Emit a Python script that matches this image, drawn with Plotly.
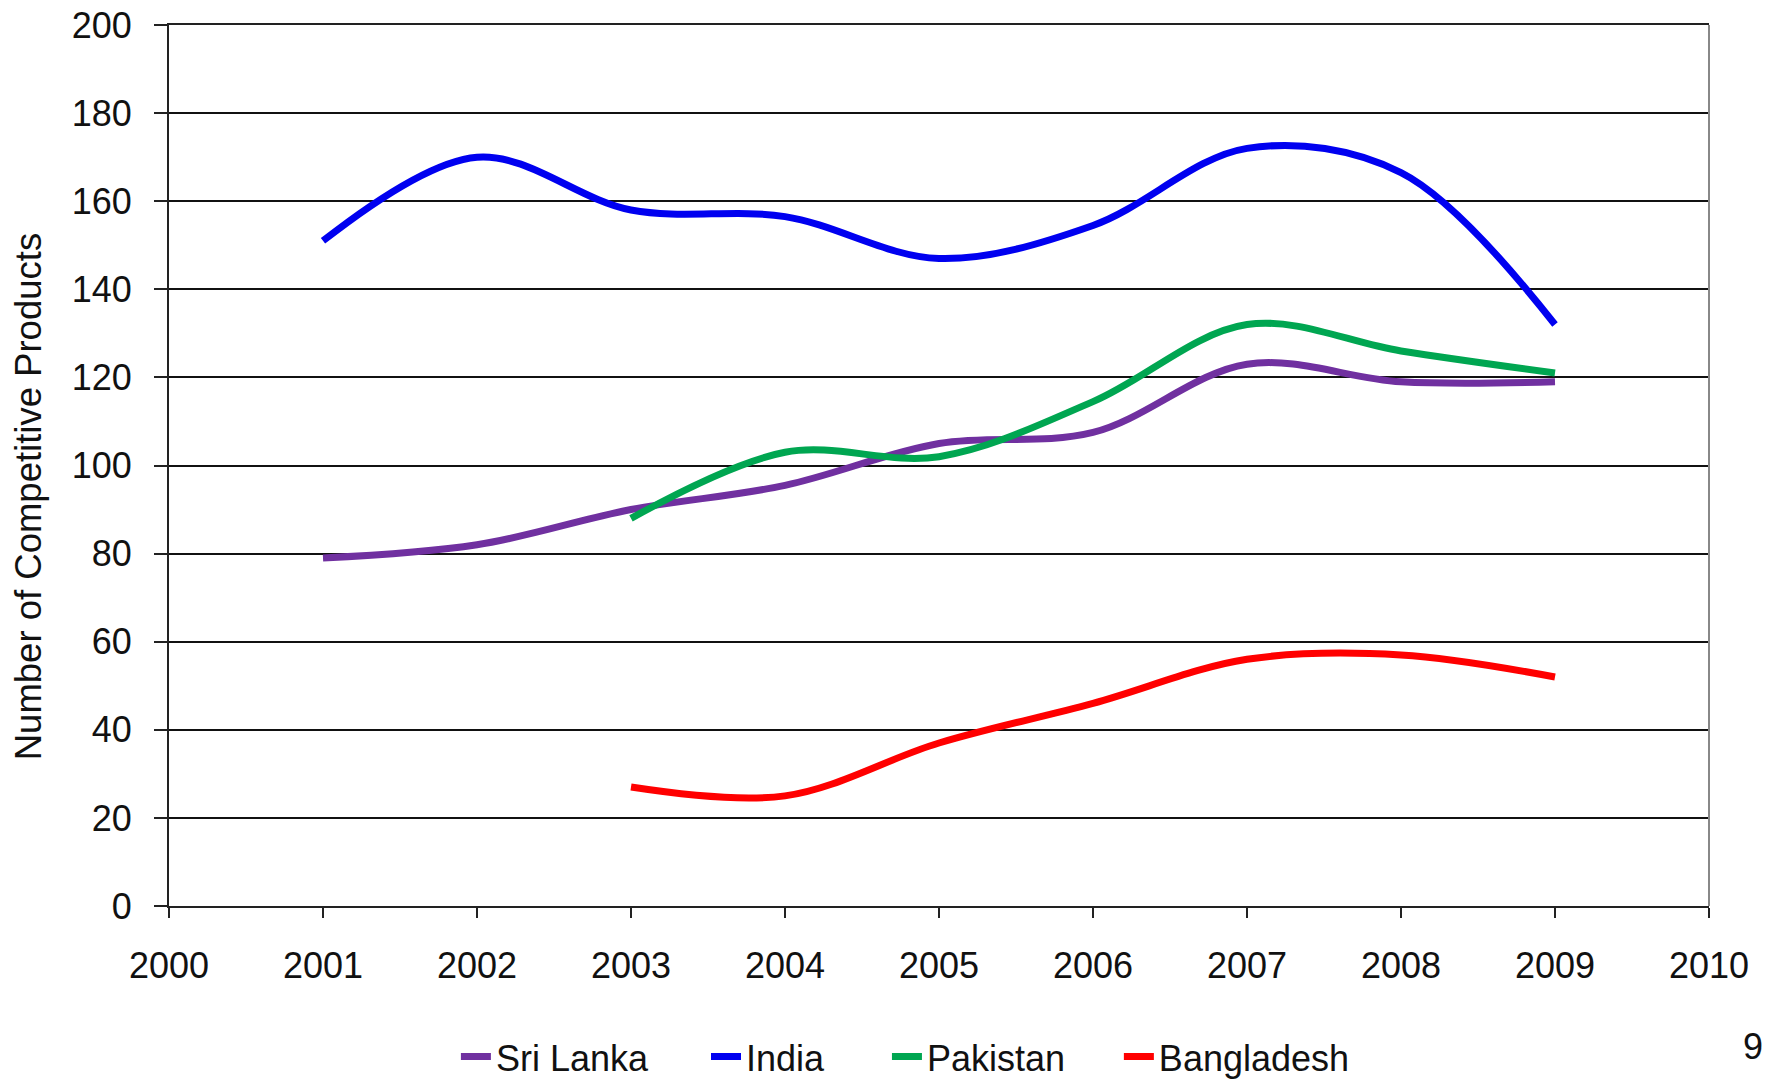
import plotly.graph_objects as go

years_sl = [2001, 2002, 2003, 2004, 2005, 2006, 2007, 2008, 2009]
sri_lanka = [79, 82, 90, 95.5, 105, 107.5, 123, 119, 119]

years_in = [2001, 2002, 2003, 2004, 2005, 2006, 2007, 2008, 2009]
india = [151, 170, 158, 156.5, 147, 154.5, 172, 166.5, 132]

years_pk = [2003, 2004, 2005, 2006, 2007, 2008, 2009]
pakistan = [88, 103, 102, 114.5, 132, 126, 121]

years_bd = [2003, 2004, 2005, 2006, 2007, 2008, 2009]
bangladesh = [27, 25, 37, 46, 56, 57, 52]

x_ticks = list(range(2000, 2011))
y_ticks = list(range(0, 201, 20))

FONT = "Liberation Sans, Arial, sans-serif"
FS = 36

series = [
    ("Sri Lanka", years_sl, sri_lanka, "#7030A0", "legend", 0.1863),
    ("India", years_in, india, "#0000F0", "legend2", 0.3487),
    ("Pakistan", years_pk, pakistan, "#00A651", "legend3", 0.4662),
    ("Bangladesh", years_bd, bangladesh, "#FF0000", "legend4", 0.6168),
]

fig = go.Figure()
legends = {}
for name, xs, ys, col, lg, lx in series:
    fig.add_trace(go.Scatter(
        x=xs, y=ys, name=name, mode="lines", legend=lg,
        line=dict(color=col, width=7, shape="spline", smoothing=1.0),
    ))
    legends[lg] = dict(orientation="h", x=lx, xanchor="left", y=-0.171, yanchor="middle",
                       font=dict(size=FS, family=FONT, color="#111111"),
                       bgcolor="rgba(0,0,0,0)", borderwidth=0)

fig.update_layout(
    width=1768, height=1081,
    margin=dict(l=169, r=59, t=25, b=175, autoexpand=False),
    paper_bgcolor="white", plot_bgcolor="white",
    font=dict(family=FONT, size=FS, color="#111111"),
    showlegend=True,
    xaxis=dict(range=[2000, 2010], tickvals=x_ticks, ticktext=[str(v) for v in x_ticks],
               showgrid=False, zeroline=False, showline=True, linecolor="#222222", linewidth=2,
               mirror=True,
               ticks="outside", ticklen=10, tickwidth=2, tickcolor="#222222",
               ticklabelstandoff=17, automargin=False, ticklabeloverflow="allow"),
    yaxis=dict(range=[0, 200], tickvals=y_ticks, ticktext=[str(v) for v in y_ticks],
               showgrid=True, gridcolor="#111111", gridwidth=2, zeroline=False,
               showline=True, linecolor="#222222", linewidth=2,
               ticks="outside", ticklen=13, tickwidth=2, tickcolor="#222222",
               ticklabelstandoff=15, automargin=False, ticklabeloverflow="allow"),
    **legends,
)

fig.add_shape(type="line", xref="paper", yref="paper", x0=1, x1=1, y0=0, y1=1,
              line=dict(color="#888888", width=2))

fig.add_annotation(text="Number of Competitive Products", textangle=-90,
                   xref="paper", yref="paper", x=-0.0916, y=0.465,
                   xanchor="center", yanchor="middle", showarrow=False,
                   font=dict(size=36.5, family=FONT, color="#111111"))
fig.add_annotation(text="9", xref="paper", yref="paper", x=1.0208, y=-0.16,
                   xanchor="left", yanchor="middle", showarrow=False,
                   font=dict(size=36, family=FONT, color="#111111"))

fig.write_html("out.html", config={"displayModeBar": False},
               post_script="document.body.style.margin='0';document.body.style.overflow='hidden';")
